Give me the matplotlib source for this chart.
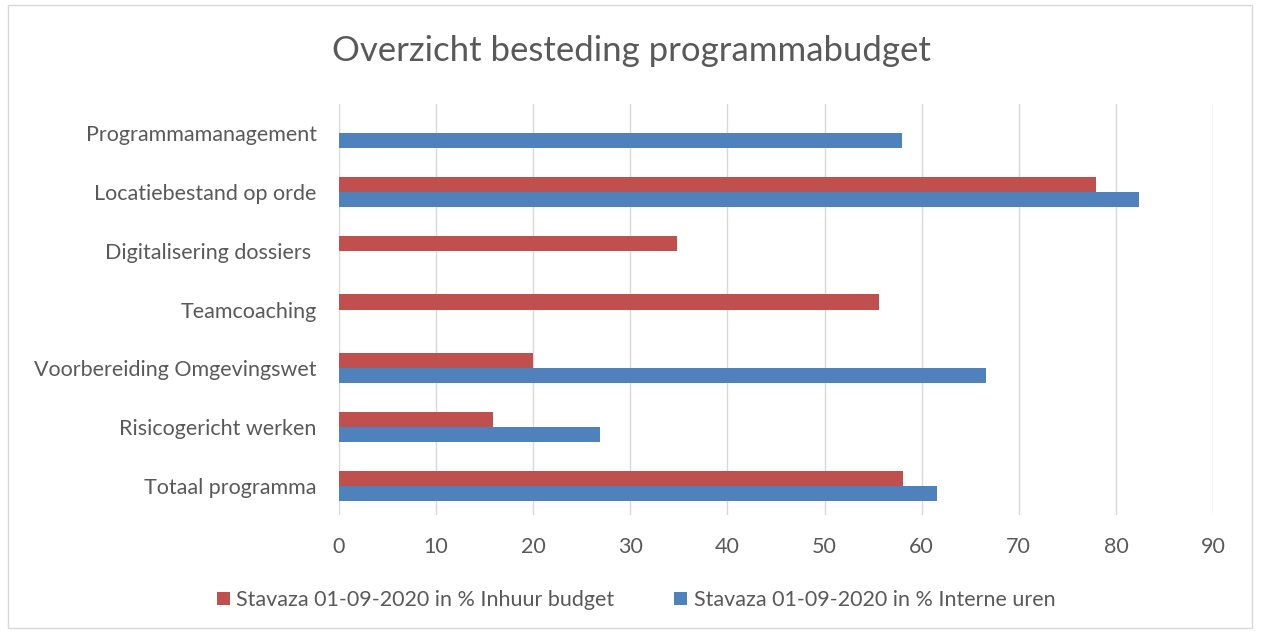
import matplotlib
matplotlib.use("Agg")
import matplotlib.pyplot as plt
import numpy as np
from matplotlib.patches import Rectangle

# Gegevens
categories = ["Programmamanagement", "Locatiebestand op orde", "Digitalisering dossiers ",
              "Teamcoaching", "Voorbereiding Omgevingswet", "Risicogericht werken", "Totaal programma"]
inhuur = [0, 78, 34.8, 55.6, 20, 15.9, 58.1]
interne = [58, 82.4, 0, 0, 66.6, 26.9, 61.6]
series_labels = ["Stavaza 01-09-2020 in % Inhuur budget", "Stavaza 01-09-2020 in % Interne uren"]
xticks = [0, 10, 20, 30, 40, 50, 60, 70, 80, 90]

red = "#C0504D"
blue = "#4F81BD"
grey_text = "#595959"

plt.rcParams["font.family"] = ["Lato", "DejaVu Sans"]

fig = plt.figure(figsize=(12.61, 6.32), dpi=100)
ax = fig.add_axes([339 / 1261, 1 - 515 / 632, (1213 - 339) / 1261, (515 - 104) / 632])

y = np.arange(len(categories))
h = 0.256
ax.barh(y - h / 2, inhuur, height=h, color=red, label=series_labels[0], zorder=3)
ax.barh(y + h / 2, interne, height=h, color=blue, label=series_labels[1], zorder=3)

ax.set_ylim(len(categories) - 0.5, -0.5)
ax.set_xlim(0, 90)
ax.set_xticks(xticks)
ax.set_yticks(y)
ax.set_yticklabels(categories)
ax.grid(axis="x", color="#d9d9d9", linewidth=1, zorder=0)
for s in ax.spines.values():
    s.set_visible(False)
ax.tick_params(axis="both", length=0, labelsize=15.5, labelcolor=grey_text)
ax.tick_params(axis="x", pad=16)
ax.tick_params(axis="y", pad=16)

fig.text(631 / 1261, 1 - 51 / 632, "Overzicht besteding programmabudget", ha="center", va="center",
         fontsize=25, color=grey_text)

ax.legend(loc="center", bbox_to_anchor=(636 / 1261, 1 - 600 / 632), bbox_transform=fig.transFigure,
          ncol=2, frameon=False, fontsize=15.5, labelcolor=grey_text, handlelength=0.6,
          handleheight=0.6, handletextpad=0.3, columnspacing=2.8)

fig.patches.append(Rectangle((8 / 1261, 4 / 632), 1244 / 1261, 623 / 632, transform=fig.transFigure,
                             fill=False, edgecolor="#d9d9d9", linewidth=1))

fig.savefig("out.png", dpi=100)
